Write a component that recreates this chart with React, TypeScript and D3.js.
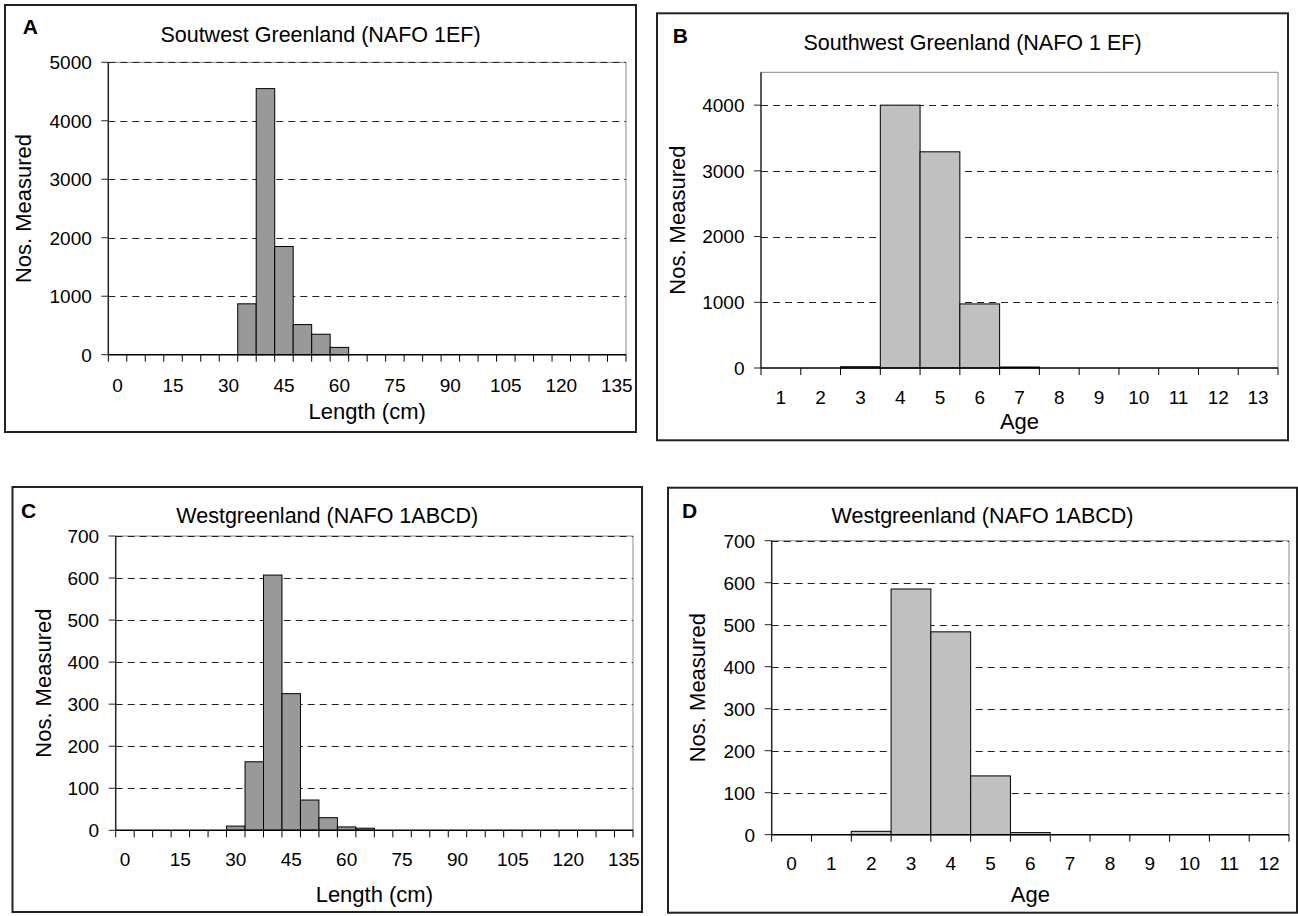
import React from "react";
import * as d3 from "d3";

// ---------- data ----------
const lengthCategories = [0, 5, 10, 15, 20, 25, 30, 35, 40, 45, 50, 55, 60, 65, 70, 75, 80, 85, 90, 95, 100, 105, 110, 115, 120, 125, 130, 135];
const lengthTickLabels = [0, 15, 30, 45, 60, 75, 90, 105, 120, 135];

const swLengthCounts = [0, 0, 0, 0, 0, 0, 0, 870, 4550, 1850, 515, 350, 125, 0, 0, 0, 0, 0, 0, 0, 0, 0, 0, 0, 0, 0, 0, 0];
const swAgeCategories = [1, 2, 3, 4, 5, 6, 7, 8, 9, 10, 11, 12, 13];
const swAgeCounts = [0, 0, 20, 4000, 3290, 975, 15, 0, 0, 0, 0, 0, 0];

const wLengthCounts = [0, 0, 0, 0, 0, 0, 10, 163, 607, 325, 72, 30, 8, 5, 0, 0, 0, 0, 0, 0, 0, 0, 0, 0, 0, 0, 0, 0];
const wAgeCategories = [0, 1, 2, 3, 4, 5, 6, 7, 8, 9, 10, 11, 12];
const wAgeCounts = [0, 0, 8, 585, 483, 140, 5, 0, 0, 0, 0, 0, 0];

const swLengthYTicks = [0, 1000, 2000, 3000, 4000, 5000];
const swAgeYTicks = [0, 1000, 2000, 3000, 4000];
const wYTicks = [0, 100, 200, 300, 400, 500, 600, 700];

const FONT = "'Liberation Sans', Arial, Helvetica, sans-serif";

type PanelProps = {
  letter: string;
  title: string;
  xTitle: string;
  categories: number[];
  values: number[];
  tickLabels: number[];
  yTicks: number[];
  yMax: number;
  fill: string;
  box: { x: number; y: number; w: number; h: number };
  plot: { left: number; right: number; top: number; bottom: number };
  titleY: number;
  letterPos: { x: number; y: number };
  tickLabelY: number;
  xTitleY: number;
  yLabelX: number;
};

function Panel(p: PanelProps) {
  const x = d3
    .scaleBand<number>()
    .domain(p.categories)
    .range([p.plot.left, p.plot.right])
    .padding(0);
  const y = d3.scaleLinear().domain([0, p.yMax]).range([p.plot.bottom, p.plot.top]);
  const bw = x.bandwidth();
  const boxCx = p.box.x + p.box.w / 2;
  const plotCx = (p.plot.left + p.plot.right) / 2;
  const plotCy = (p.plot.top + p.plot.bottom) / 2;
  const boundaries = p.categories.map((c) => x(c) as number).concat([p.plot.right]);

  return (
    <g>
      <rect
        x={p.box.x}
        y={p.box.y}
        width={p.box.w}
        height={p.box.h}
        fill="#fff"
        stroke="#222"
        strokeWidth={2}
      />
      {/* plot frame (top/right) */}
      <path
        d={`M${p.plot.left},${p.plot.top}H${p.plot.right}V${p.plot.bottom}`}
        fill="none"
        stroke="#8a8a8a"
        strokeWidth={1}
      />
      {/* gridlines */}
      {p.yTicks
        .filter((t) => t > 0)
        .map((t) => (
          <line
            key={"g" + t}
            x1={p.plot.left}
            x2={p.plot.right}
            y1={Math.round(y(t)) + 0.5}
            y2={Math.round(y(t)) + 0.5}
            stroke="#222"
            strokeWidth={1}
            strokeDasharray="7,5"
          />
        ))}
      {/* bars */}
      {p.categories.map((c, i) =>
        p.values[i] > 0 ? (
          <rect
            key={"b" + c}
            x={x(c) as number}
            y={y(p.values[i])}
            width={bw}
            height={p.plot.bottom - y(p.values[i])}
            fill={p.fill}
            stroke="#000"
            strokeWidth={1}
          />
        ) : null
      )}
      {/* y axis */}
      <line x1={p.plot.left} x2={p.plot.left} y1={p.plot.top} y2={p.plot.bottom} stroke="#222" strokeWidth={1.5} />
      {p.yTicks.map((t) => (
        <g key={"yt" + t}>
          <line x1={p.plot.left - 7} x2={p.plot.left} y1={y(t)} y2={y(t)} stroke="#222" strokeWidth={1} />
          <text
            x={p.plot.left - 16.5}
            y={y(t) + 6.8}
            textAnchor="end"
            fontSize={19}
            fontFamily={FONT}
            fill="#000"
          >
            {t}
          </text>
        </g>
      ))}
      {/* x axis */}
      <line x1={p.plot.left} x2={p.plot.right} y1={p.plot.bottom} y2={p.plot.bottom} stroke="#000" strokeWidth={1.5} />
      {boundaries.map((bx, i) => (
        <line key={"xt" + i} x1={bx} x2={bx} y1={p.plot.bottom} y2={p.plot.bottom + 7} stroke="#000" strokeWidth={1} />
      ))}
      {p.categories
        .filter((c) => p.tickLabels.includes(c))
        .map((c) => (
          <text
            key={"xl" + c}
            x={(x(c) as number) + bw / 2}
            y={p.tickLabelY}
            textAnchor="middle"
            fontSize={19}
            fontFamily={FONT}
            fill="#000"
          >
            {c}
          </text>
        ))}
      {/* titles */}
      <text x={boxCx} y={p.titleY} textAnchor="middle" fontSize={21.5} fontFamily={FONT} fill="#000">
        {p.title}
      </text>
      <text x={p.letterPos.x} y={p.letterPos.y} fontSize={21} fontWeight="bold" fontFamily={FONT} fill="#000">
        {p.letter}
      </text>
      <text x={plotCx} y={p.xTitleY} textAnchor="middle" fontSize={22} fontFamily={FONT} fill="#000">
        {p.xTitle}
      </text>
      <text
        transform={`translate(${p.yLabelX},${plotCy}) rotate(-90)`}
        textAnchor="middle"
        fontSize={22}
        fontFamily={FONT}
        fill="#000"
      >
        Nos. Measured
      </text>
    </g>
  );
}

export default function App() {
  return (
    <svg
      width={1298}
      height={916}
      viewBox="0 0 1298 916"
      style={{ position: "absolute", left: 0, top: 0, background: "#fff" }}
    >
      <rect x={0} y={0} width={1298} height={916} fill="#fff" />
      <Panel
        letter="A"
        title="Soutwest Greenland (NAFO 1EF)"
        xTitle="Length (cm)"
        categories={lengthCategories}
        values={swLengthCounts}
        tickLabels={lengthTickLabels}
        yTicks={swLengthYTicks}
        yMax={5000}
        fill="#999999"
        box={{ x: 5, y: 5, w: 631, h: 427 }}
        plot={{ left: 108.3, right: 626, top: 62.3, bottom: 354.7 }}
        titleY={41.7}
        letterPos={{ x: 22.7, y: 34.3 }}
        tickLabelY={392}
        xTitleY={419}
        yLabelX={31}
      />
      <Panel
        letter="B"
        title="Southwest Greenland (NAFO 1 EF)"
        xTitle="Age"
        categories={swAgeCategories}
        values={swAgeCounts}
        tickLabels={swAgeCategories}
        yTicks={swAgeYTicks}
        yMax={4500}
        fill="#c0c0c0"
        box={{ x: 657, y: 13.3, w: 631, h: 427 }}
        plot={{ left: 761, right: 1278, top: 72.3, bottom: 368 }}
        titleY={50}
        letterPos={{ x: 672.7, y: 42.7 }}
        tickLabelY={404}
        xTitleY={428.5}
        yLabelX={685}
      />
      <Panel
        letter="C"
        title="Westgreenland (NAFO 1ABCD)"
        xTitle="Length (cm)"
        categories={lengthCategories}
        values={wLengthCounts}
        tickLabels={lengthTickLabels}
        yTicks={wYTicks}
        yMax={700}
        fill="#999999"
        box={{ x: 12.5, y: 487, w: 629.5, h: 425 }}
        plot={{ left: 115.7, right: 633, top: 536, bottom: 830.3 }}
        titleY={523}
        letterPos={{ x: 21, y: 517.7 }}
        tickLabelY={865.7}
        xTitleY={901.7}
        yLabelX={51}
      />
      <Panel
        letter="D"
        title="Westgreenland (NAFO 1ABCD)"
        xTitle="Age"
        categories={wAgeCategories}
        values={wAgeCounts}
        tickLabels={wAgeCategories}
        yTicks={wYTicks}
        yMax={700}
        fill="#c0c0c0"
        box={{ x: 668, y: 487.7, w: 629, h: 425 }}
        plot={{ left: 771.7, right: 1289, top: 540.7, bottom: 834.7 }}
        titleY={523}
        letterPos={{ x: 682, y: 517.7 }}
        tickLabelY={870}
        xTitleY={901.7}
        yLabelX={705}
      />
    </svg>
  );
}
